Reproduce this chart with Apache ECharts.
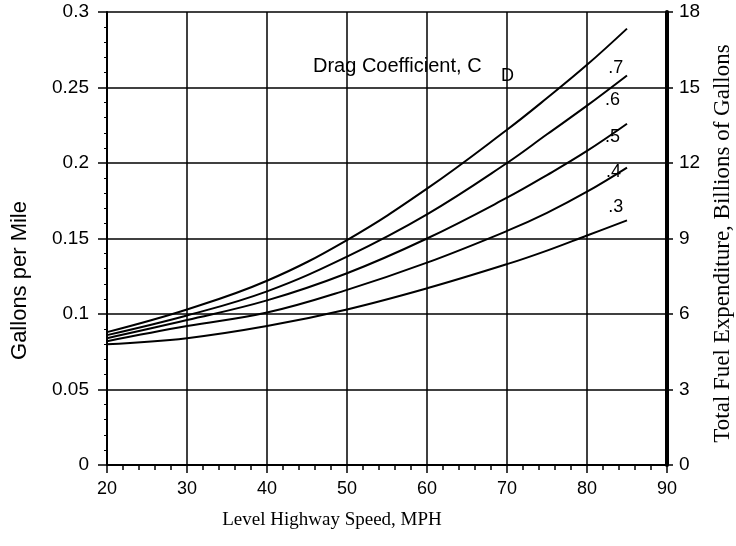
<!DOCTYPE html>
<html>
<head>
<meta charset="utf-8">
<script src="https://cdn.jsdelivr.net/npm/echarts@6/dist/echarts.min.js"></script>
<style>html,body{margin:0;padding:0;background:#fff}#c{width:736px;height:546px}</style>
</head>
<body>
<div id="c"></div>
<script>
// Data
var speeds = [20, 30, 40, 50, 60, 70, 75, 80, 85];
var cd07 = [0.088, 0.103, 0.122, 0.149, 0.183, 0.222, 0.243, 0.265, 0.289];
var cd06 = [0.086, 0.099, 0.115, 0.138, 0.166, 0.200, 0.219, 0.238, 0.258];
var cd05 = [0.084, 0.096, 0.109, 0.127, 0.150, 0.177, 0.192, 0.208, 0.226];
var cd04 = [0.082, 0.092, 0.101, 0.116, 0.134, 0.155, 0.167, 0.181, 0.197];
var cd03 = [0.080, 0.084, 0.092, 0.103, 0.117, 0.133, 0.142, 0.152, 0.162];
var curveNames = ['.7', '.6', '.5', '.4', '.3'];
var xTicks = [20, 30, 40, 50, 60, 70, 80, 90];
var leftTicks = [0, 0.05, 0.1, 0.15, 0.2, 0.25, 0.3];
var rightTicks = [0, 3, 6, 9, 12, 15, 18];

// label anchor positions (data space) for curve names
var labelAnchors = [[83.6, 0.263], [83.2, 0.242], [83.2, 0.217], [83.3, 0.194], [83.6, 0.171]];

var allSeries = [cd07, cd06, cd05, cd04, cd03];
function pairs(vals) { return speeds.map(function (s, i) { return [s, vals[i]]; }); }

var series = allSeries.map(function (vals, k) {
  return {
    type: 'line',
    name: curveNames[k],
    data: pairs(vals),
    smooth: 0.4,
    showSymbol: false,
    symbol: 'none',
    lineStyle: { color: '#000', width: 2 },
    markPoint: {
      symbol: 'circle', symbolSize: 0, silent: true,
      data: [{ coord: labelAnchors[k], value: curveNames[k] }],
      label: { show: true, formatter: curveNames[k], color: '#000', fontFamily: 'Liberation Sans, Arial', fontSize: 18, position: 'inside' }
    }
  };
});

var chart = echarts.init(document.getElementById('c'), null, { renderer: 'canvas' });
chart.setOption({
  backgroundColor: '#fff',
  animation: false,
  grid: { left: 107, right: 69, top: 12, bottom: 81, outerBoundsMode: 'none', containLabel: false },
  xAxis: {
    type: 'value', min: 20, max: 90, interval: 10,
    name: 'Level Highway Speed, MPH', nameLocation: 'middle', nameGap: 46,
    nameTextStyle: { fontFamily: 'Liberation Serif, Times New Roman', fontSize: 19, color: '#000', padding: [0, 110, 0, 0] },
    axisLine: { lineStyle: { color: '#000', width: 2 } },
    axisTick: { show: true, length: 8, lineStyle: { color: '#000', width: 1.5 } },
    minorTick: { show: true, splitNumber: 5, length: 5, lineStyle: { color: '#000', width: 1.5 } },
    axisLabel: { color: '#000', fontFamily: 'Liberation Sans, Arial', fontSize: 18, margin: 15,
      formatter: function (v) { return xTicks.indexOf(v) >= 0 ? String(v) : ''; } },
    splitLine: { show: true, lineStyle: { color: '#000', width: 1.5 } }
  },
  yAxis: [{
    type: 'value', min: 0, max: 0.3, interval: 0.05, position: 'left',
    name: 'Gallons per Mile', nameLocation: 'middle', nameGap: 76, nameRotate: 90,
    nameTextStyle: { fontFamily: 'Liberation Sans, Arial', fontSize: 22, color: '#000', padding: [0, 84, 0, 0] },
    axisLine: { show: true, lineStyle: { color: '#000', width: 2 } },
    axisTick: { show: true, length: 9, lineStyle: { color: '#000', width: 1.5 } },
    minorTick: { show: true, splitNumber: 5, length: 3, lineStyle: { color: '#000', width: 1 } },
    axisLabel: { color: '#000', fontFamily: 'Liberation Sans, Arial', fontSize: 19, margin: 18,
      formatter: function (v) { var r = Math.round(v * 100) / 100; return leftTicks.indexOf(r) >= 0 ? String(r) : ''; } },
    splitLine: { show: true, lineStyle: { color: '#000', width: 1.5 } }
  }, {
    type: 'value', min: 0, max: 18, interval: 3, position: 'right',
    name: 'Total Fuel Expenditure, Billions of Gallons', nameLocation: 'middle', nameGap: 36, nameRotate: 90,
    nameTextStyle: { fontFamily: 'Liberation Serif, Times New Roman', fontSize: 23, color: '#000', padding: [0, 10, 0, 0] },
    axisLine: { show: true, lineStyle: { color: '#000', width: 4 } },
    axisTick: { show: true, length: 6, lineStyle: { color: '#000', width: 1.5 } },
    axisLabel: { color: '#000', fontFamily: 'Liberation Sans, Arial', fontSize: 19, margin: 12,
      formatter: function (v) { return rightTicks.indexOf(v) >= 0 ? String(v) : ''; } },
    splitLine: { show: false }
  }],
  graphic: [
    { type: 'text', left: 313, top: 56, style: { text: 'Drag Coefficient, C', font: '20px "Liberation Sans", Arial', fill: '#000' } },
    { type: 'text', left: 501, top: 67, style: { text: 'D', font: '18px "Liberation Sans", Arial', fill: '#000' } }
  ],
  series: series
});
</script>
</body>
</html>
